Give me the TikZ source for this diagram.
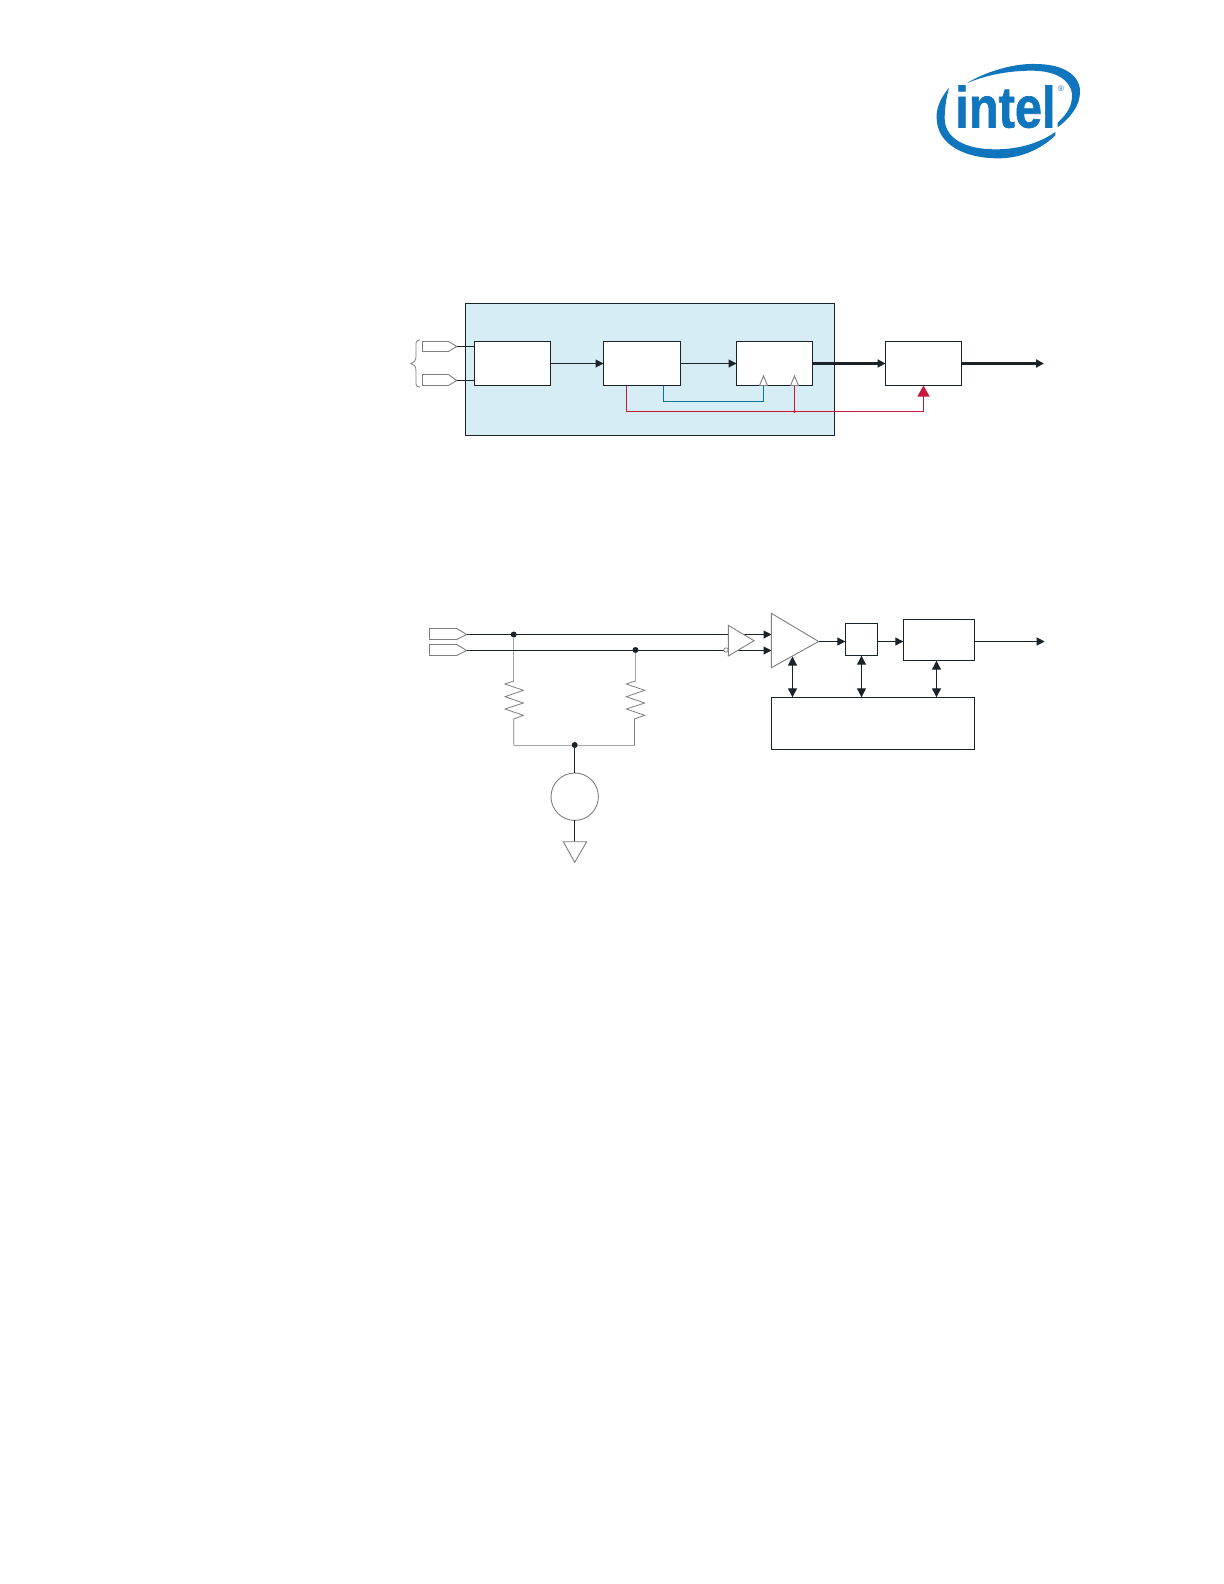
\documentclass[tikz,border=0pt]{standalone}
\usepackage{fontspec}
\setmainfont{Liberation Sans}
\usetikzlibrary{arrows.meta}
\definecolor{panelblue}{HTML}{D7EDF6}
\definecolor{linedark}{HTML}{1A2328}
\definecolor{tealline}{HTML}{0B7394}
\definecolor{redline}{HTML}{C8193C}
\definecolor{intelblue}{HTML}{0F75BC}
\definecolor{thin}{HTML}{7F7F7F}
\tikzset{
  pxbox/.style 2 args={draw=linedark,fill=white,line width=.55pt,inner sep=0pt,outer sep=0pt,minimum width=#1*.5pt,minimum height=#2*.5pt},
  wire/.style={draw=linedark,line width=.55pt},
  boldwire/.style={draw=linedark,line width=1.05pt},
  tip/.style={-{Triangle[length=4pt,width=4pt]}},
  tipboth/.style={{Triangle[length=4.5pt,width=4.5pt]}-{Triangle[length=4.5pt,width=4.5pt]}},
  grayshape/.style={draw=thin,line width=.45pt,fill=white},
  graywire/.style={draw=thin!70,line width=.5pt},
  res/.style={draw=thin,line width=.4pt,line join=miter},
  dot/.style={circle,fill=linedark,inner sep=0pt,minimum size=3pt,outer sep=0pt},
  logoarc/.style={fill=intelblue,draw=none}
}
\begin{document}
\begin{tikzpicture}[x=.5pt,y=-.5pt]
\useasboundingbox (0,0) rectangle (1224,1584);
\fill[white] (0,0) rectangle (1224,1584);

% logo
\begin{scope}[shift={(920,50)},x=.16667pt,y=-.16667pt]
\path[logoarc] (140,100) .. controls (205,60) and (290,40) .. (345,42)
  .. controls (430,42) and (480,75) .. (480,125)
  .. controls (480,165) and (455,200) .. (413,232)
  -- (413,218)
  .. controls (442,192) and (458,165) .. (456,132)
  .. controls (450,85) and (400,62) .. (335,62)
  .. controls (270,62) and (200,74) .. (140,100) -- cycle;
\path[logoarc] (87,113) .. controls (65,140) and (48,170) .. (50,205)
  .. controls (52,285) and (135,325) .. (235,325)
  .. controls (300,325) and (360,300) .. (406,256)
  -- (406,246)
  .. controls (360,278) and (300,298) .. (225,298)
  .. controls (135,298) and (74,265) .. (74,205)
  .. controls (74,170) and (80,140) .. (87,113) -- cycle;
\end{scope}
\node[text=intelblue,font=\bfseries,inner sep=0pt,anchor=base west,xscale=.84] (logotext) at (955,127.5) {\addfontfeature{FakeBold=1.2}\fontsize{29pt}{30pt}\selectfont intel};
\node[text=intelblue,inner sep=0pt] (logoreg) at (1061,89) {\fontsize{4pt}{4pt}\selectfont ®};

% upper diagram
\node[pxbox={369.5}{132},fill=panelblue] (panel) at (650,369.5) {};
\node[pxbox={76.2}{44}] (b1) at (512.6,363.5) {};
\node[pxbox={77}{44}] (b2) at (642,363.5) {};
\node[pxbox={76}{44}] (b3) at (774.5,363.5) {};
\node[pxbox={76}{44}] (b4) at (923.5,363.5) {};
\coordinate (out1) at (1044,363.5);

\draw[grayshape] (422.5,341.5) -- (448.5,341.5) -- (456.7,346.5) -- (448.5,351.5) -- (422.5,351.5) -- cycle;
\draw[grayshape] (422.5,374.5) -- (448.5,374.5) -- (456.7,380.5) -- (448.5,385.5) -- (422.5,385.5) -- cycle;
\coordinate (p1) at (456.7,346.5);
\coordinate (p2) at (456.7,380.5);
\draw[wire] (p1) -- (p1 -| b1.west);
\draw[wire] (p2) -- (p2 -| b1.west);
\draw[draw=thin,line width=.4pt] (420,340) .. controls (415,340) and (416,344) .. (416,350)
  -- (416,356) .. controls (416,361) and (414,362.5) .. (411,363.5)
  .. controls (414,364.5) and (416,366) .. (416,371) -- (416,378)
  .. controls (416,384) and (415,387) .. (420,387);

\draw[wire,tip] (b1.east) -- (b2.west);
\draw[wire,tip] (b2.east) -- (b3.west);
\draw[boldwire,tip] (b3.east) -- (b4.west);
\draw[boldwire,tip] (b4.east) -- (out1);

\coordinate (ts1) at (663.5,385.5);
\coordinate (tb1) at (763.5,385.5);
\coordinate (rs1) at (626.5,385.5);
\coordinate (rb1) at (794.5,385.5);
\coordinate (rb2) at (794.5,411.5);
\coordinate (re1) at (923.5,385.5);
\draw[draw=tealline,line width=.55pt] (ts1) -- (663.5,401.5) -- (763.5,401.5) -- (tb1);
\draw[draw=redline,line width=.55pt] (rb2) -- (rb1);
\draw[draw=redline,line width=.55pt,-{Triangle[length=5.5pt,width=6pt]}] (rs1) -- (626.5,411.5) -- (923.5,411.5) -- (re1);
\fill[redline] (rb2) circle (.8pt);
\draw[grayshape] (759.5,385.5) -- (763.5,376) -- (767.5,385.5) -- cycle;
\draw[grayshape] (790.5,385.5) -- (794.5,376) -- (798.5,385.5) -- cycle;

% lower diagram
\draw[grayshape] (429.5,628.5) -- (456.7,628.5) -- (466.7,634.5) -- (456.7,639.5) -- (429.5,639.5) -- cycle;
\draw[grayshape] (429.5,644.5) -- (456.7,644.5) -- (466.7,650.5) -- (456.7,655.5) -- (429.5,655.5) -- cycle;
\coordinate (q1) at (466.7,634.5);
\coordinate (q2) at (466.7,650.5);
\coordinate (amp1) at (771.5,634.5);
\coordinate (amp2) at (771.5,650.5);

\node[dot] (d1) at (513.7,634.5) {};
\node[dot] (d2) at (635.5,650) {};
\node[dot] (d3) at (574.7,745) {};

\draw[graywire] (d1) -- (513.7,681);
\draw[graywire] (d2) -- (635.5,681);
\draw[res] (513.7,681) -- (505,684) -- (523.3,690.3) -- (505,696.7) -- (523.3,703) -- (505,709) -- (523.3,715.3) -- (513.7,719) -- (513.7,745);
\draw[res] (635.5,681) -- (626.3,684) -- (644.7,690.3) -- (626.3,696.7) -- (644.7,703) -- (626.3,709) -- (644.7,715.3) -- (634.5,719) -- (634.5,745);
\draw[graywire] (513.7,745) -- (d3) -- (634.5,745);

\draw[wire,tip] (q1) -- (amp1);
\draw[wire,tip] (q2) -- (amp2);

\node[circle,draw=thin,line width=.45pt,fill=white,minimum size=23.7pt,inner sep=0pt,outer sep=0pt] (src) at (574.7,796.7) {};
\coordinate (gnd) at (574.7,841.7);
\draw[wire] (d3) -- (src.north);
\draw[wire] (src.south) -- (gnd);
\draw[grayshape] (563.3,841.7) -- (586.7,841.7) -- (574.7,862.3) -- cycle;

% receiver symbols
\draw[grayshape] (728.3,625.3) -- (754,640.7) -- (728.3,656) -- cycle;
\node[circle,draw=thin,line width=.35pt,fill=white,inner sep=0pt,minimum size=2.2pt] (bub) at (726,650) {};
\draw[grayshape] (771.3,613.3) -- (818.7,641.5) -- (771.3,667.7) -- cycle;
\coordinate (ampout) at (818.7,641.5);
\node[pxbox={32.4}{32.4}] (c1) at (861.5,639.5) {};
\node[pxbox={71.4}{41.4}] (c2) at (939,640) {};
\node[pxbox={203.4}{52}] (c3) at (873,723.3) {};
\coordinate (out2) at (1044.7,641.5);
\draw[wire,tip] (ampout) -- (ampout -| c1.west);
\draw[wire,tip] (c1.east |- ampout) -- (ampout -| c2.west);
\draw[wire,tip] (c2.east |- ampout) -- (out2);

\coordinate (ampb) at (792.5,656.5);
\draw[wire,tipboth] (ampb) -- (ampb |- c3.north);
\draw[wire,tipboth] (c1.south) -- (c1.south |- c3.north);
\coordinate (c2b) at (936.5,660.7);
\draw[wire,tipboth] (c2b) -- (c2b |- c3.north);
\end{tikzpicture}
\end{document}
